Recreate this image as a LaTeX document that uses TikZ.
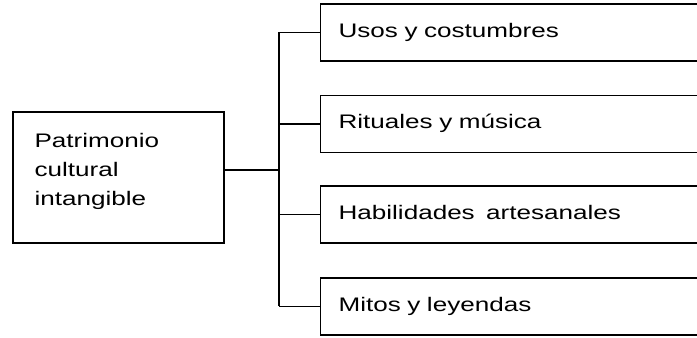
\documentclass[tikz,border=0pt]{standalone}
\usepackage{fontspec}
\setmainfont{Liberation Sans}[FakeStretch=1.33]
\usetikzlibrary{positioning}

\begin{document}
\begin{tikzpicture}[x=0.75pt,y=0.75pt,yscale=-1,xscale=1,
    line width=0.9pt,
    every node/.style={font=\fontsize{14.7}{21.75}\selectfont},
    rootbox/.style={draw, minimum width=158.25pt, minimum height=98.25pt},
    itembox/.style={draw, anchor=west, minimum height=42.75pt, text width=300pt, align=left,
        inner xsep=13.5pt, text height=0.72em, text depth=0pt}]
    \useasboundingbox (0,0) rectangle (697,338);
    \clip (0,0) rectangle (697,338);

    %Shape: Rectangle [root]
    \node (root) [rootbox] at (118.5,177.5) {};
    % Text Node
    \node (rootlabel) [anchor=north west, inner sep=0pt, align=left] at (34,133) {Patrimonio\\cultural\\intangible};

    %Shape: Rectangles [items]
    \node (uses) [itembox] at (320,32.5) {Usos y costumbres};
    \node (rituals) [itembox] at (320,124) {Rituales y música};
    \node (crafts) [itembox] at (320,214.5) {Habilidades\hspace{0.25em} artesanales};
    \node (myths) [itembox] at (320,306.5) {Mitos y leyendas};

    %Straight Lines
    \coordinate (hub) at (279,170);
    \draw (root.east |- hub) -- (hub);
    \draw (hub |- uses.west) -- (hub |- myths.west);
    \foreach \n in {uses,rituals,crafts,myths}
        \draw (hub |- \n.west) -- (\n.west);

\end{tikzpicture}
\end{document}
